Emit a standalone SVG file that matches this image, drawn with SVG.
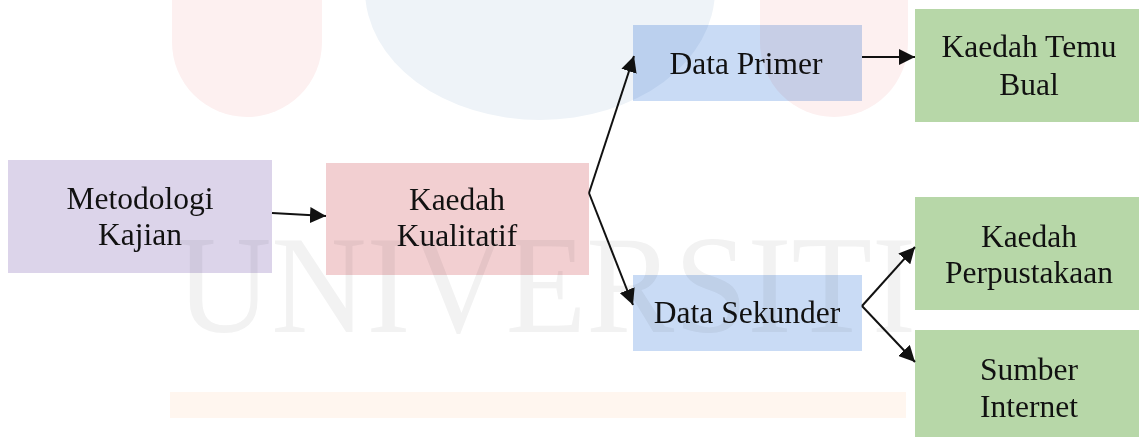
<svg xmlns="http://www.w3.org/2000/svg" width="1139" height="437" viewBox="0 0 1139 437">
  <style>
    .lbl { font-family: "Liberation Serif", "Times New Roman", serif; font-size: 31.5px; fill: #111; text-anchor: middle; }
    .purple { fill: #dcd4ea; }
    .pink { fill: #f2cfd1; }
    .blue { fill: #c9dbf5; }
    .green { fill: #b7d7a8; }
    .conn { stroke: #111; stroke-width: 2; fill: none; marker-end: url(#arr); }
    .wm { mix-blend-mode: multiply; }
  </style>
  <defs>
    <marker id="arr" markerUnits="userSpaceOnUse" markerWidth="17" markerHeight="16" refX="16" refY="8" orient="auto">
      <path d="M0,0 L16,8 L0,16 Z" fill="#111"/>
    </marker>
  </defs>
  <rect width="1139" height="437" fill="#ffffff"/>

  <g id="node-metodologi">
    <rect class="purple" x="8" y="160" width="264" height="113"/>
    <text class="lbl" x="140" y="209">Metodologi</text>
    <text class="lbl" x="140" y="245">Kajian</text>
  </g>
  <g id="node-kualitatif">
    <rect class="pink" x="326" y="163" width="263" height="112"/>
    <text class="lbl" x="457" y="210">Kaedah</text>
    <text class="lbl" x="457" y="246">Kualitatif</text>
  </g>
  <g id="node-primer">
    <rect class="blue" x="633" y="25" width="229" height="76"/>
    <text class="lbl" x="746" y="74">Data Primer</text>
  </g>
  <g id="node-sekunder">
    <rect class="blue" x="633" y="275" width="229" height="76"/>
    <text class="lbl" x="747" y="323">Data Sekunder</text>
  </g>
  <g id="node-temubual">
    <rect class="green" x="915" y="9" width="224" height="113"/>
    <text class="lbl" x="1029" y="57">Kaedah Temu</text>
    <text class="lbl" x="1029" y="95">Bual</text>
  </g>
  <g id="node-perpustakaan">
    <rect class="green" x="915" y="197" width="224" height="113"/>
    <text class="lbl" x="1029" y="247">Kaedah</text>
    <text class="lbl" x="1029" y="283">Perpustakaan</text>
  </g>
  <g id="node-internet">
    <rect class="green" x="915" y="330" width="224" height="107"/>
    <text class="lbl" x="1029" y="380">Sumber</text>
    <text class="lbl" x="1029" y="417">Internet</text>
  </g>

  <g id="connectors">
    <line class="conn" x1="272" y1="213" x2="326" y2="216"/>
    <line class="conn" x1="589" y1="193" x2="634" y2="56"/>
    <line class="conn" x1="589" y1="193" x2="633" y2="305"/>
    <line class="conn" x1="862" y1="57" x2="915" y2="57"/>
    <line class="conn" x1="862" y1="306" x2="915" y2="247"/>
    <line class="conn" x1="862" y1="306" x2="915" y2="362"/>
  </g>

  <g id="watermark" class="wm">
    <path d="M172,-5 V42 A75,75 0 0 0 322,42 V-5 Z" fill="#fdf0f0"/>
    <path d="M760,-5 V42 A74,75 0 0 0 908,42 V-5 Z" fill="#fdf0f0"/>
    <ellipse cx="540" cy="-10" rx="175" ry="130" fill="#eef3f8"/>
    <rect x="170" y="392" width="736" height="26" fill="#fff6ef"/>
    <text x="176" y="332" font-family="Liberation Serif, serif" font-size="139" fill="#f2f2f2" textLength="740" lengthAdjust="spacingAndGlyphs">UNIVERSITI</text>
  </g>
</svg>
